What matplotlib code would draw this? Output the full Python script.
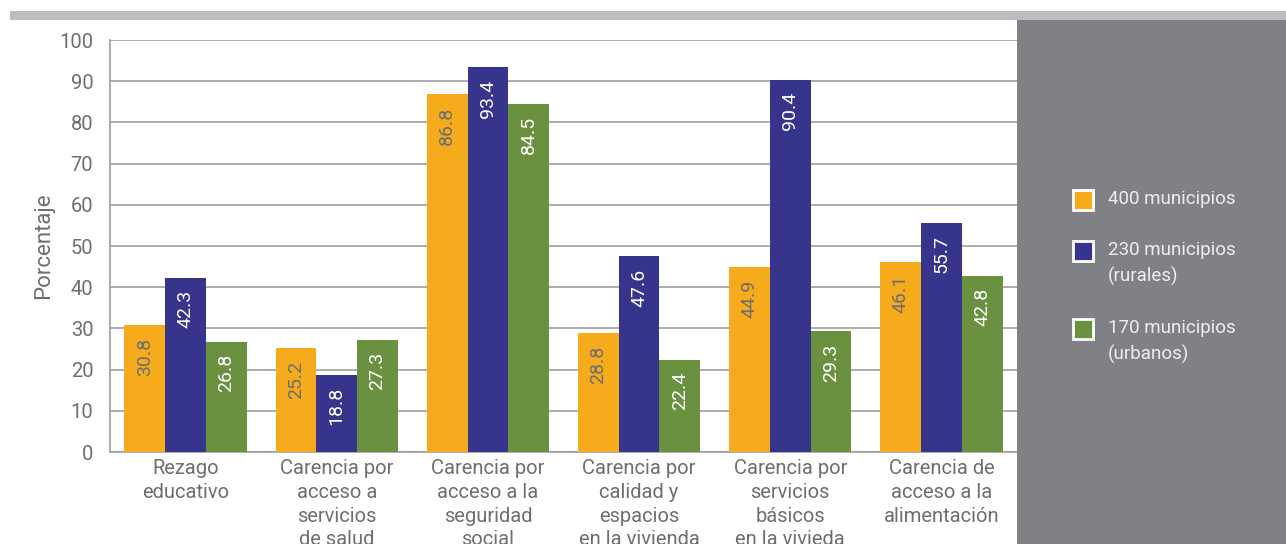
import matplotlib.pyplot as plt
import numpy as np
from matplotlib.patches import Rectangle

plt.rcParams['font.family'] = ['Roboto', 'DejaVu Sans']

categories = ["Rezago\neducativo",
              "Carencia por\nacceso a\nservicios\nde salud",
              "Carencia por\nacceso a la\nseguridad\nsocial",
              "Carencia por\ncalidad y\nespacios\nen la vivienda",
              "Carencia por\nservicios\nbásicos\nen la vivieda",
              "Carencia de\nacceso a la\nalimentación"]
series_names = ["400 municipios", "230 municipios\n(rurales)", "170 municipios\n(urbanos)"]
v400 = [30.8, 25.2, 86.8, 28.8, 44.9, 46.1]
v230 = [42.3, 18.8, 93.4, 47.6, 90.4, 55.7]
v170 = [26.8, 27.3, 84.5, 22.4, 29.3, 42.8]

colors = ["#f5ab1c", "#37348c", "#6a9140"]
label_colors = ["#6d6e71", "white", "white"]
grey_txt = "#6d6e71"

fig = plt.figure(figsize=(12.86, 5.44), dpi=100)

# top strip and right grey panel
fig.add_artist(Rectangle((10/1286, 1 - 20/544), 1 - 10/1286, 9/544,
                         transform=fig.transFigure, color="#bcbdc0", lw=0))
fig.add_artist(Rectangle((1017/1286, 0), 1 - 1017/1286, 1 - 20/544,
                         transform=fig.transFigure, color="#808184", lw=0))

ax = fig.add_axes([110/1286, 92/544, 907/1286, 412/544])
x = np.arange(len(categories))
w = 0.27
for i, vals in enumerate([v400, v230, v170]):
    bars = ax.bar(x + (i - 1) * w, vals, w, color=colors[i], zorder=3)
    for b, v in zip(bars, vals):
        ax.annotate(f"{v:.1f}", (b.get_x() + b.get_width() / 2, v),
                    xytext=(0, -9), textcoords="offset points",
                    rotation=90, ha="center", va="top",
                    fontsize=14, color=label_colors[i], zorder=4)

ax.set_xlim(-0.5, len(categories) - 0.5)
ax.set_ylim(0, 100)
ax.set_yticks(range(0, 101, 10))
ax.yaxis.grid(True, color="#9d9d9f", lw=1.2, zorder=0)
ax.tick_params(length=0, labelsize=14.5, labelcolor=grey_txt, pad=12)
ax.tick_params(axis="x", pad=5)
ax.set_xticks(x)
ax.set_xticklabels(categories, linespacing=1.32)
for s in ["top", "right"]:
    ax.spines[s].set_visible(False)
for s in ["left", "bottom"]:
    ax.spines[s].set_color("#9d9d9f")
    ax.spines[s].set_linewidth(1.2)
ax.set_ylabel("Porcentaje", fontsize=16, color=grey_txt, labelpad=4)

# legend in the grey panel
ys = [200, 251, 329]
for name, c, yy in zip(series_names, colors, ys):
    fig.add_artist(Rectangle((1073/1286, 1 - (yy + 10)/544), 20/1286, 20/544,
                             transform=fig.transFigure, facecolor=c,
                             edgecolor="white", lw=2))
    fig.text(1108/1286, 1 - (yy - 10)/544, name, fontsize=13.5, color="#eeeeee",
             va="top", ha="left", linespacing=1.5,
             transform=fig.transFigure)

fig.savefig("out.png", dpi=100)
